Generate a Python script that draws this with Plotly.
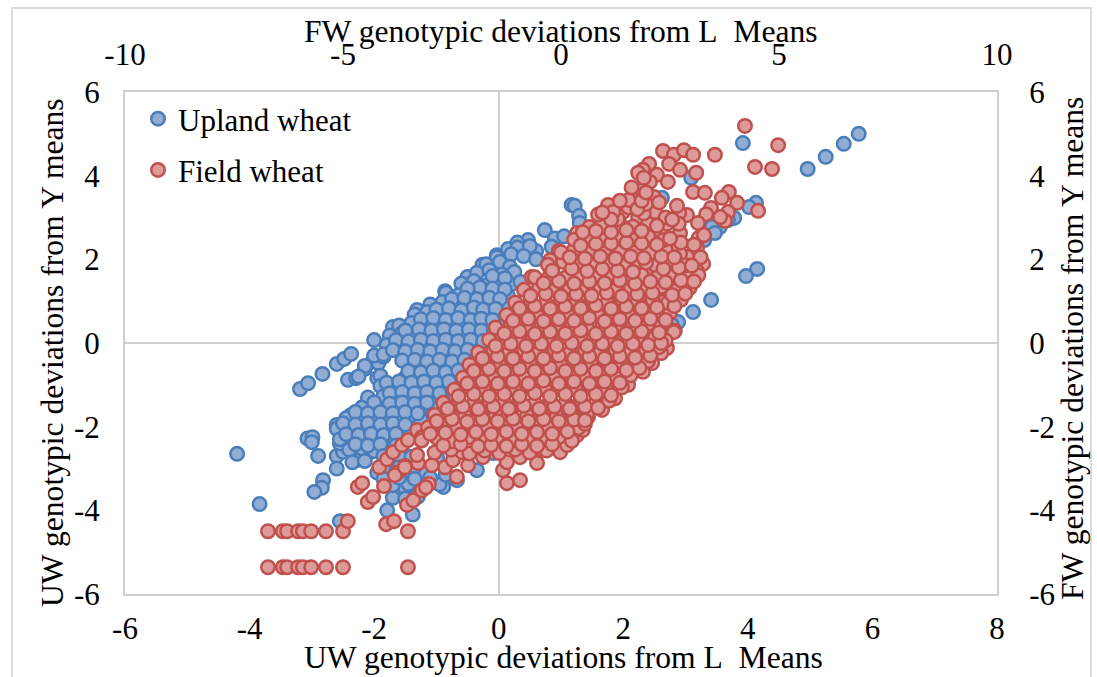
import plotly.graph_objects as go

series_names = ["Upland wheat", "Field wheat"]
x_title_bottom = "UW genotypic deviations from L\u00a0 Means"
x_title_top = "FW genotypic deviations from L\u00a0 Means"
y_title_left = "UW genotypic deviations from Y means"
y_title_right = "FW genotypic deviations from Y means"
x_ticks_bottom = [-6, -4, -2, 0, 2, 4, 6, 8]
x_ticks_top = [-10, -5, 0, 5, 10]
y_ticks = [-6, -4, -2, 0, 2, 4, 6]

# Upland wheat: (UW deviation from L mean, UW deviation from Y mean)
upland_points = [
(-4.2,-2.65),(-3.84,-3.85),(-2.55,-4.26),(-3.19,-1.1),(-3.06,-.96),(-2.83,-.74),(-2.6,-.5),(-2.48,-.38),(-2.37,-.26),(-2.0,.07),
(-3.07,-2.28),(-2.99,-2.25),(-3.0,-2.37),(-2.9,-2.7),(-2.6,-2.7),(-2.5,-2.6),(-2.6,-3.0),(-2.82,-3.28),(-2.84,-3.46),(-2.96,-3.56),
(-2.42,-.88),(-2.29,-.84),(-2.15,-.62),(-2.03,-.45),(-1.93,-.48),(-1.85,-.33),(-1.77,-.19),(-1.6,-.05),(-1.41,.12),(-1.3,.38),(-1.7,.38),(-1.31,.79),(-.86,1.24),(-.5,1.58),(-.26,1.87),(-.03,2.1),
(-1.95,-.84),(-1.8,-1.17),(-1.55,-1.05),(-1.25,-.6),(-1.0,-.44),(-.58,.38),(-.38,.6),(-.67,.84),(-.5,.1),(-.2,.67),(-.25,1.3),(0,2.0),
(-2.6,-1.96),(-2.37,-1.72),(-2.18,-1.53),(-1.78,-1.32),(-1.5,-1.14),(-1.7,-2.0),(-2.13,-2.1),(-2.44,-2.3),(-2.55,-2.4),(-2.28,-2.8),(-2.2,-2.75),(-2.05,-2.6),
(-1.39,-3.35),(-1.5,-3.47),(-1.7,-3.7),(-1.79,-4.0),(-1.38,-4.1),(-.89,-3.44),(-.67,-3.28),(-.35,-3.04),(-.09,-2.63),(-.99,-2.73),(.13,-2.44),
(.47,2.46),(.74,2.7),(1.17,3.3),(1.22,3.28),(1.29,3.04),(1.3,2.87),(.9,2.5),(.6,2.2),(.85,2.3),(1.05,2.55),(.3,2.4),(.15,2.25),
(3.92,4.78),(4.96,4.16),(5.25,4.45),(5.54,4.76),(5.78,5.0),(3.09,3.95),(2.62,3.47),(4.13,3.35),(4.02,3.25),(3.78,2.99),(3.68,2.94),(3.55,2.77),(3.42,2.77),(3.47,2.63),(3.3,2.46),
(4.15,1.77),(3.97,1.6),(3.41,1.03),(3.12,.74),(2.88,.5),(2.78,.43),(2.67,.31),
(.3,2.28),(.5,2.32),(-.03,2.05),(.2,2.12),(.4,2.08),(.6,2.0),(-.2,1.88),(.02,1.94),(.18,1.82),
(-.35,1.68),(-.15,1.74),(.05,1.64),(.25,1.7),(-.6,1.42),(-.4,1.48),(-.2,1.38),(0,1.5),(.2,1.4),(.35,1.46),
(-.85,1.2),(-.65,1.14),(-.45,1.24),(-.25,1.16),(-.05,1.22),(.15,1.12),(-1.1,.92),(-.9,.98),(-.7,.9),(-.5,1.0),(-.3,.92),(-.1,.98),(.1,.9),
(-1.35,.68),(-1.15,.74),(-.95,.66),(-.75,.72),(-.55,.64),(-.35,.74),(-.15,.68),(-1.6,.42),(-1.4,.48),(-1.2,.4),(-1,.46),(-.8,.42),(-.6,.5),(-.4,.42),(-.2,.46),(0,.42),
(-1.75,.18),(-1.55,.24),(-1.35,.16),(-1.15,.22),(-.95,.18),(-.75,.24),(-.55,.16),(-.35,.22),(-.15,.18),(-1.8,-.05),(-1.6,-.02),(-1.4,-.08),(-1.2,-.03),(-1,-.07),(-.8,-.02),(-.6,-.08),(-.4,-.03),(-.25,-.07),
(-2.0,-.3),(-1.85,-.27),(-1.45,-.32),(-1.25,-.27),(-1.05,-.33),(-.85,-.28),(-.65,-.32),(-.45,-.26),(-2.15,-.55),(-1.35,-.52),(-1.15,-.58),(-.95,-.53),(-.75,-.57),(-.55,-.52),
(-2.25,-.8),(-1.9,-.78),(-1.5,-.83),(-1.3,-.78),(-1.1,-.82),(-.9,-.77),(-.7,-.82),(-1.9,-1.03),(-1.65,-1.07),(-1.45,-1.02),(-1.25,-1.08),(-1.05,-1.03),(-.85,-1.07),
(-2.1,-1.3),(-1.85,-1.27),(-1.65,-1.33),(-1.45,-1.28),(-1.25,-1.32),(-1.05,-1.27),(-.9,-1.33),(-2.2,-1.55),(-2.0,-1.52),(-1.8,-1.58),(-1.6,-1.53),(-1.4,-1.57),(-1.2,-1.52),(-1.05,-1.58),
(-2.45,-1.8),(-2.25,-1.77),(-2.05,-1.83),(-1.85,-1.78),(-1.65,-1.82),(-1.45,-1.77),(-1.25,-1.83),(-2.6,-2.05),(-2.4,-2.02),(-2.2,-2.08),(-2.0,-2.03),(-1.8,-2.07),(-1.6,-2.02),
(-2.55,-2.3),(-2.35,-2.27),(-2.1,-2.33),(-1.9,-2.28),(-1.7,-2.32),(-2.4,-2.55),(-2.2,-2.52),(-2.0,-2.58),(-1.75,-2.53),(-1.55,-2.57),(-2.35,-2.85),(-2.15,-2.82),(-1.7,-2.88),(-1.5,-2.83),(-1.3,-2.87),
(-1.95,-3.1),(-1.7,-3.07),(-1.45,-3.13),(-1.2,-3.08),(-1.7,-3.4),(-1.45,-3.37),(-1.2,-3.43),(-.95,-3.38),(-1.5,-3.72),(-1.3,-3.68),
(-.1,1.6),(.1,1.55),(-.3,1.33),(-.5,1.3),(-.1,1.3),(.1,1.28),(-.75,1.05),(-.55,1.08),(-.35,1.05),(-.15,1.08),(.02,1.05),(-1.0,.8),(-.8,.83),(-.6,.78),(-.4,.85),(-.25,.8),(-.05,.82),
(-1.25,.57),(-1.05,.6),(-.85,.55),(-.65,.6),(-.45,.55),(-.28,.58),(-.1,.55),(-1.5,.3),(-1.28,.33),(-1.08,.3),(-.88,.33),(-.68,.3),(-.48,.32),(-.28,.3),(-.08,.3),(-1.65,.07),(-1.45,.04),(-1.25,.08),(-1.05,.05),(-.85,.08),(-.65,.05),(-.45,.08),(-.25,.05),
(-1.7,-.17),(-1.5,-.2),(-1.3,-.16),(-1.1,-.2),(-.9,-.16),(-.7,-.2),(-.5,-.16),(-1.55,-.42),(-1.35,-.4),(-1.15,-.44),(-.95,-.4),(-.75,-.44),(-.55,-.4),(-.38,-.44),(-1.45,-.67),(-1.25,-.7),(-1.05,-.66),(-.85,-.7),(-.65,-.66),
(-1.8,-.95),(-1.6,-.92),(-1.4,-.95),(-1.2,-.92),(-1,-.95),(-.8,-.92),(-1.75,-1.2),(-1.55,-1.17),(-1.35,-1.2),(-1.15,-1.17),(-.95,-1.2),(-2.0,-1.42),(-1.75,-1.45),(-1.55,-1.42),(-1.35,-1.45),(-1.15,-1.42),(-2.3,-1.65),(-2.1,-1.68),(-1.9,-1.65),(-1.7,-1.68),(-1.5,-1.65),(-1.3,-1.68),
(-2.5,-1.92),(-2.3,-1.95),(-2.1,-1.92),(-1.9,-1.95),(-1.7,-1.92),(-1.5,-1.95),(-2.45,-2.18),(-2.25,-2.2),(-2.05,-2.17),(-1.85,-2.2),(-1.65,-2.17),(-2.3,-2.42),(-2.1,-2.45),(-1.9,-2.42),(-1.65,-2.45),(-1.85,-2.7),(-1.6,-2.7),(-1.4,-2.72),(-1.85,-2.97),(-1.6,-2.97),(-1.35,-2.97),(-1.85,-3.25),(-1.6,-3.22),(-1.35,-3.25),(-1.1,-3.22),(-.85,-3.15),
]

# Field wheat: (FW deviation from L mean, FW deviation from Y mean)
field_points = [
(-6.72,-4.5),(-6.38,-4.5),(-6.28,-4.5),(-6.03,-4.5),(-5.92,-4.5),(-5.73,-4.5),(-5.39,-4.5),(-5.0,-4.5),(-3.51,-4.5),
(-6.72,-5.36),(-6.38,-5.36),(-6.28,-5.36),(-6.03,-5.36),(-5.92,-5.36),(-5.73,-5.36),(-5.39,-5.36),(-5.0,-5.36),(-3.51,-5.36),
(-4.89,-4.26),(-4.01,-4.33),(-3.83,-4.26),(-4.43,-3.8),(-4.31,-3.68),(-4.66,-3.44),(-4.56,-3.35),(-4.06,-3.42),(-3.53,-3.87),(-3.39,-3.76),(-3.19,-3.52),
(-4.17,-2.97),(-3.99,-2.78),(-3.85,-2.61),(-3.65,-2.44),(-3.51,-2.32),(-3.3,-2.08),(-3.19,-2.25),(-3.28,-2.87),(-3.58,-2.94),(-3.74,-3.09),(-3.81,-3.16),(-3.3,-2.68),
(-3.03,-3.37),(-3.1,-3.45),(-2.39,-3.2),(-2.66,-2.97),(-2.96,-2.92),(-3.58,-2.97),(-2.13,-2.92),(-1.79,-2.73),(-2.48,-2.8),(-2.27,-2.61),
(-1.24,-3.35),(-.94,-3.28),(-1.33,-3.04),(-1.24,-2.85),(-.94,-2.73),(-.55,-2.87),(-.41,-2.56),(-.02,-2.61),(.14,-2.44),(.37,-2.2),(.5,-2.08),(.62,-1.77),(.94,-1.6),(1.24,-1.32),(1.54,-1.0),(1.88,-.69),(2.09,-.48),(2.43,-.12),(2.3,-.24),(2.61,.29),(2.04,.19),(1.93,.55),
(-.67,1.58),(-.05,2.2),(-.25,1.98),(.37,2.63),(.28,2.08),
(4.22,5.19),(4.98,4.73),(4.45,4.21),(4.84,4.16),(3.53,4.5),(2.34,4.59),(2.59,4.5),(2.82,4.61),(3.03,4.5),(2.48,4.28),(2.73,4.14),(3.1,4.07),(2.02,4.28),(1.88,4.14),(1.77,4.07),(2.2,4.02),(2.45,3.85),(2.04,3.85),
(3.03,3.61),(3.3,3.59),(3.85,3.61),(3.69,3.47),(4.04,3.35),(4.52,3.16),(3.83,3.13),(3.76,2.92),(3.65,3.01),(3.44,3.23),(3.33,3.08),(3.14,2.87),(2.89,3.06),(2.71,3.11),(2.66,3.28),(2.73,2.63),(3.16,2.51),(3.28,2.58),(3.12,2.27),(2.89,2.06),(2.73,2.13),(3.26,1.89),(3.12,1.72),(2.84,1.46),(2.82,1.7),(2.68,1.31),(2.45,1.08),(2.32,.98),(2.13,.77),(2.09,.24),(2.59,.26),
(2.27,2.66),(2.16,3.13),(1.74,3.54),(2.13,3.49),(1.86,3.66),(2.43,2.85),(2.48,1.65),(2.57,2.34),(2.16,2.06),(1.72,1.84),(2.0,1.77),(2.22,1.39),(1.79,1.51),(1.97,1.1),(1.54,.72),(2.06,2.46),(1.56,2.53),(1.28,2.27),(1.42,2.77),(1.77,3.01),(1.42,3.13),(1.08,3.3),(1.06,2.85),(1.12,1.7),(1.4,1.98),(1.19,1.34),(1.35,1.08),(1.0,.72),(1.17,.41),(1.77,.38),
(-2.9,-2.62),(-2.52,-2.55),(-2.1,-2.64),(-1.75,-2.57),(-1.42,-2.63),(-1.05,-2.55),(-.72,-2.62),(-.33,-2.57),
(-3.2,-2.33),(-2.85,-2.27),(-2.5,-2.35),(-2.13,-2.26),(-1.8,-2.32),(-1.47,-2.24),(-1.1,-2.33),(-.75,-2.27),(-.4,-2.31),(-.05,-2.25),(.25,-2.34),
(-3.05,-2.02),(-2.75,-1.95),(-2.4,-2.04),(-2.05,-1.97),(-1.7,-2.03),(-1.33,-1.95),(-1.0,-2.04),(-.65,-1.96),(-.3,-2.02),(.05,-1.97),(.4,-2.03),(.55,-1.93),
(-2.9,-1.72),(-2.55,-1.66),(-2.2,-1.74),(-1.85,-1.67),(-1.5,-1.72),(-1.15,-1.65),(-.78,-1.73),(-.45,-1.66),(-.1,-1.74),(.25,-1.68),(.6,-1.7),
(-2.7,-1.43),(-2.35,-1.36),(-2.0,-1.44),(-1.65,-1.38),(-1.3,-1.42),(-.95,-1.35),(-.6,-1.44),(-.25,-1.37),(.1,-1.43),(.45,-1.36),(.8,-1.42),(1.1,-1.38),
(-2.45,-1.12),(-2.1,-1.06),(-1.75,-1.13),(-1.4,-1.07),(-1.05,-1.14),(-.7,-1.05),(-.35,-1.13),(0,-1.07),(.35,-1.12),(.7,-1.06),(1.05,-1.13),(1.4,-1.06),
(-2.25,-.83),(-1.9,-.76),(-1.55,-.84),(-1.2,-.77),(-.85,-.82),(-.5,-.75),(-.15,-.84),(.2,-.77),(.55,-.83),(.9,-.76),(1.25,-.82),(1.6,-.77),
(-2.1,-.52),(-1.75,-.46),(-1.4,-.54),(-1.05,-.47),(-.7,-.53),(-.35,-.45),(0,-.54),(.35,-.47),(.7,-.52),(1.05,-.46),(1.4,-.53),(1.75,-.47),(2.0,-.43),
(-1.9,-.23),(-1.55,-.16),(-1.2,-.24),(-.85,-.17),(-.5,-.22),(-.15,-.15),(.2,-.24),(.55,-.17),(.9,-.23),(1.25,-.16),(1.6,-.22),(1.95,-.17),(2.25,-.1),
(-1.65,.08),(-1.35,.14),(-1.0,.06),(-.65,.13),(-.3,.08),(.05,.15),(.4,.06),(.75,.13),(1.1,.07),(1.45,.14),(1.8,.08),(2.15,.13),(2.4,.06),
(-1.5,.37),(-1.15,.44),(-.8,.36),(-.45,.43),(-.1,.38),(.25,.45),(.6,.36),(.95,.43),(1.3,.37),(1.65,.44),(2.0,.46),(2.3,.42),
(-1.25,.67),(-.9,.74),(-.55,.66),(-.2,.73),(.15,.68),(.5,.75),(.85,.66),(1.2,.73),(1.55,.67),(1.9,.74),(2.2,.68),(2.5,.72),
(-1.05,.97),(-.7,1.04),(-.35,.96),(0,1.03),(.35,.98),(.7,1.05),(1.05,.96),(1.4,1.03),(1.75,.97),(2.1,1.04),(2.45,.96),(2.75,1.03),
(-.85,1.27),(-.5,1.34),(-.15,1.26),(.2,1.33),(.55,1.28),(.9,1.35),(1.25,1.26),(1.6,1.33),(1.95,1.27),(2.3,1.34),(2.65,1.26),(2.95,1.32),
(-.6,1.57),(-.25,1.64),(.1,1.56),(.45,1.63),(.8,1.58),(1.15,1.65),(1.5,1.56),(1.85,1.63),(2.2,1.57),(2.55,1.64),(2.9,1.56),(3.15,1.62),
(-.3,1.87),(.05,1.94),(.4,1.86),(.75,1.93),(1.1,1.88),(1.45,1.85),(1.8,1.93),(2.15,1.87),(2.5,1.94),(2.85,1.86),(3.2,2.05),
(0,2.17),(.3,2.23),(.65,2.16),(1.0,2.23),(1.35,2.18),(1.7,2.25),(2.05,2.16),(2.4,2.23),(2.75,2.4),(3.05,2.35),
(.3,2.47),(.6,2.54),(.95,2.46),(1.3,2.53),(1.65,2.48),(2.0,2.55),(2.35,2.46),(2.7,2.85),
(.65,2.77),(.95,2.84),(1.3,2.96),(1.65,2.78),(2.0,2.85),(2.4,3.0),(1.9,3.1),(.85,3.07),(1.2,3.14),(1.55,3.24),(1.95,3.32),(2.25,3.36),(1.55,3.42),(1.62,3.72),(1.9,3.95),
(-2.7,-2.45),(-2.3,-2.42),(-1.9,-2.47),(-1.6,-2.44),(-1.25,-2.47),(-.9,-2.42),(-.55,-2.46),(-.2,-2.42),
(-3.0,-2.17),(-2.65,-2.14),(-2.3,-2.19),(-1.95,-2.13),(-1.6,-2.18),(-1.25,-2.12),(-.9,-2.17),(-.55,-2.13),(-.2,-2.17),(.15,-2.12),
(-2.85,-1.87),(-2.5,-1.82),(-2.15,-1.88),(-1.8,-1.82),(-1.45,-1.87),(-1.1,-1.81),(-.75,-1.87),(-.4,-1.82),(-.05,-1.87),(.3,-1.83),(.55,-1.85),
(-2.6,-1.57),(-2.25,-1.52),(-1.9,-1.58),(-1.55,-1.52),(-1.2,-1.57),(-.85,-1.5),(-.5,-1.57),(-.15,-1.52),(.2,-1.57),(.55,-1.52),(.85,-1.55),
(-2.35,-1.27),(-2.0,-1.22),(-1.65,-1.27),(-1.3,-1.22),(-.95,-1.27),(-.6,-1.2),(-.25,-1.27),(.1,-1.22),(.45,-1.27),(.8,-1.22),(1.15,-1.25),
(-2.15,-.97),(-1.8,-.92),(-1.45,-.97),(-1.1,-.92),(-.75,-.97),(-.4,-.9),(-.05,-.97),(.3,-.92),(.65,-.97),(1.0,-.92),(1.35,-.95),
(-2.0,-.67),(-1.65,-.62),(-1.3,-.67),(-.95,-.62),(-.6,-.67),(-.25,-.6),(.1,-.67),(.45,-.62),(.8,-.67),(1.15,-.62),(1.5,-.65),(1.8,-.6),
(-1.8,-.37),(-1.45,-.32),(-1.1,-.37),(-.75,-.32),(-.4,-.37),(-.05,-.3),(.3,-.37),(.65,-.32),(1.0,-.37),(1.35,-.32),(1.7,-.35),(2.05,-.3),
(-1.5,-.07),(-1.15,-.02),(-.8,-.07),(-.45,-.02),(-.1,-.07),(.25,0),(.6,-.07),(.95,-.02),(1.3,-.07),(1.65,-.02),(2.0,-.05),(2.3,0),
(-1.3,.23),(-.95,.28),(-.6,.22),(-.25,.27),(.1,.23),(.45,.3),(.8,.22),(1.15,.27),(1.5,.23),(1.85,.28),(2.25,.25),
(-1.1,.53),(-.75,.58),(-.4,.52),(-.05,.57),(.3,.53),(.65,.6),(1.0,.52),(1.35,.57),(1.7,.53),(2.05,.58),(2.4,.55),
(-.95,.83),(-.6,.88),(-.25,.82),(.1,.87),(.45,.83),(.8,.9),(1.15,.82),(1.5,.87),(1.85,.83),(2.2,.85),(2.6,.88),
(-.7,1.13),(-.35,1.18),(0,1.12),(.35,1.17),(.7,1.13),(1.05,1.2),(1.4,1.12),(1.75,1.17),(2.1,1.2),(2.55,1.15),(2.85,1.18),
(-.4,1.43),(-.05,1.48),(.3,1.42),(.65,1.47),(1.0,1.43),(1.35,1.5),(1.7,1.42),(2.05,1.47),(2.4,1.45),(2.75,1.5),(3.05,1.47),
(-.2,1.73),(.25,1.78),(.6,1.72),(.95,1.77),(1.3,1.73),(1.65,1.7),(1.95,1.92),(2.35,1.77),(2.7,1.8),(3.0,1.85),
(.2,2.05),(.55,2.02),(.9,2.07),(1.25,2.02),(1.6,2.07),(1.9,2.03),(2.3,2.07),(2.6,2.05),
(.45,2.33),(.8,2.37),(1.15,2.38),(1.5,2.4),(1.85,2.38),(2.2,2.35),(2.5,2.5),
(.5,2.65),(.8,2.68),(1.15,2.65),(1.5,2.7),(1.85,2.68),(2.2,2.8),(2.55,2.95),(1.15,2.95),(1.75,3.2),(.95,3.12),(1.35,3.4),(1.85,3.4),(1.95,3.6),
]

upland_x = [p[0] for p in upland_points]
upland_y = [p[1] for p in upland_points]
field_x = [p[0] for p in field_points]
field_y = [p[1] for p in field_points]

W, H = 1097, 677
L, R, T, B = 125, 997, 92, 594
FONT = "Liberation Serif"
GRID = "#cfcfcf"
CLEAR = "rgba(0,0,0,0)"

fig = go.Figure()
fig.add_trace(go.Scatter(x=upland_x, y=upland_y, mode="markers", name=series_names[0], legendgroup="a",
    marker=dict(size=13.5, color="#92add4", line=dict(color="#4a7ebb", width=2.5))))
fig.add_trace(go.Scatter(x=field_x, y=field_y, mode="markers", name=series_names[1], legendgroup="b",
    xaxis="x2", yaxis="y2",
    marker=dict(size=13.5, color="#dc9b99", line=dict(color="#c0504d", width=2.5))))

axis_common = dict(showgrid=False, showline=True, linecolor=GRID, linewidth=2, mirror=True,
    zeroline=True, zerolinecolor=GRID, zerolinewidth=2, ticks="outside", tickcolor=CLEAR,
    tickmode="array", tickfont=dict(family=FONT, size=31, color="black"))

def labels(vals):
    return [str(v) for v in vals]

fig.update_layout(
    width=W, height=H, autosize=False,
    margin=dict(l=L, r=W-R, t=T, b=H-B, pad=0),
    paper_bgcolor="white", plot_bgcolor="white",
    font=dict(family=FONT, size=31, color="black"),
    xaxis=dict(range=[-6, 8], tickvals=x_ticks_bottom, ticktext=labels(x_ticks_bottom), ticklen=6, **axis_common),
    yaxis=dict(range=[-6, 6], tickvals=y_ticks, ticktext=labels(y_ticks), ticklen=17, **axis_common),
    xaxis2=dict(range=[-10, 10], tickvals=x_ticks_top, ticktext=labels(x_ticks_top), side="top", overlaying="x", ticklen=13,
                **{**axis_common, "zeroline": False}),
    yaxis2=dict(range=[-6, 6], tickvals=y_ticks, ticktext=labels(y_ticks), side="right", overlaying="y", ticklen=24,
                **{**axis_common, "zeroline": False}),
    legend=dict(x=(138-L)/(R-L), y=1-(92-T)/(B-T), xanchor="left", yanchor="top", bgcolor=CLEAR,
                tracegroupgap=8, font=dict(family=FONT, size=31, color="black"), itemwidth=30),
    shapes=[dict(type="rect", xref="paper", yref="paper",
                 x0=(12-L)/(R-L), x1=(1091-L)/(R-L), y0=1-(682-T)/(B-T), y1=1-(8-T)/(B-T),
                 line=dict(color="#dcdcdc", width=2), fillcolor=CLEAR, layer="below")],
    annotations=[
        dict(text=x_title_bottom, xref="paper", yref="paper", x=(563-L)/(R-L), y=1-(657-T)/(B-T),
             showarrow=False, xanchor="center", yanchor="middle", font=dict(family=FONT, size=31.6)),
        dict(text=x_title_top, xref="paper", yref="paper", x=(561-L)/(R-L), y=1-(31-T)/(B-T),
             showarrow=False, xanchor="center", yanchor="middle", font=dict(family=FONT, size=31.6)),
        dict(text=y_title_left, xref="paper", yref="paper", x=(52-L)/(R-L), y=1-(353-T)/(B-T),
             showarrow=False, textangle=-90, xanchor="center", yanchor="middle", font=dict(family=FONT, size=31.6)),
        dict(text=y_title_right, xref="paper", yref="paper", x=(1072-L)/(R-L), y=1-(349-T)/(B-T),
             showarrow=False, textangle=-90, xanchor="center", yanchor="middle", font=dict(family=FONT, size=31.6)),
    ],
)

fig.write_html("out.html", config=dict(displayModeBar=False), post_script="document.body.style.margin='0';")
